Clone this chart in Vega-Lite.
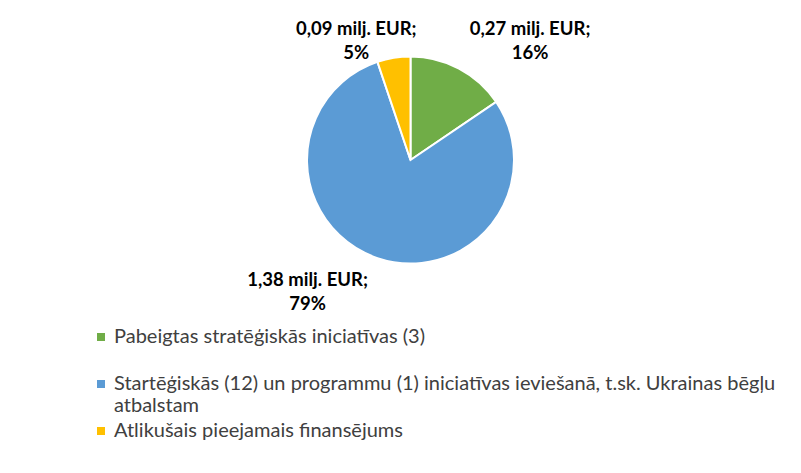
{
  "$schema": "https://vega.github.io/schema/vega-lite/v6.json",
  "autosize": "none",
  "width": 779,
  "height": 320,
  "padding": {"left": 21, "top": 0, "right": 1, "bottom": 153},
  "background": "white",
  "config": {"view": {"stroke": null}},
  "data": {
    "values": [
      {"n": 1, "kategorija": "Pabeigtas stratēģiskās iniciatīvas (3)", "milj_eur": 0.27, "label": "0,27 milj. EUR;\n16%"},
      {"n": 2, "kategorija": "Startēģiskās (12) un programmu (1) iniciatīvas ieviešanā, t.sk. Ukrainas bēgļu atbalstam", "milj_eur": 1.38, "label": "1,38 milj. EUR;\n79%"},
      {"n": 3, "kategorija": "Atlikušais pieejamais finansējums", "milj_eur": 0.09, "label": "0,09 milj. EUR;\n5%"}
    ]
  },
  "encoding": {
    "theta": {"field": "milj_eur", "type": "quantitative", "stack": true},
    "order": {"field": "n", "type": "quantitative"}
  },
  "layer": [
    {
      "mark": {"type": "arc", "outerRadius": 103.5, "stroke": "white", "strokeWidth": 2},
      "encoding": {
        "color": {
          "field": "kategorija",
          "type": "nominal",
          "sort": null,
          "scale": {
            "domain": ["Pabeigtas stratēģiskās iniciatīvas (3)", "Startēģiskās (12) un programmu (1) iniciatīvas ieviešanā, t.sk. Ukrainas bēgļu atbalstam", "Atlikušais pieejamais finansējums"],
            "range": ["#70AD47", "#5B9BD5", "#FFC000"]
          },
          "legend": {
            "title": null,
            "orient": "none",
            "legendX": 70,
            "legendY": 327,
            "direction": "vertical",
            "symbolType": "square",
            "symbolSize": 64,
            "symbolStrokeWidth": 0,
            "labelFont": "Lato",
            "labelFontSize": 20,
            "labelColor": "#404040",
            "labelOffset": 3,
            "labelLimit": 800,
            "rowPadding": 5,
            "padding": 0,
            "labelExpr": "datum.label == 'Startēģiskās (12) un programmu (1) iniciatīvas ieviešanā, t.sk. Ukrainas bēgļu atbalstam' ? ['Startēģiskās (12) un programmu (1) iniciatīvas ieviešanā, t.sk. Ukrainas bēgļu', 'atbalstam'] : [datum.label, '']"
          }
        }
      }
    },
    {
      "mark": {"type": "text", "radius": 125, "dx": 61, "dy": -21, "font": "Lato", "fontWeight": "bold", "fontSize": 18.5, "lineBreak": "\n", "lineHeight": 24, "color": "#000000", "align": "center", "baseline": "middle"},
      "encoding": {"text": {"condition": {"test": "datum.n == 1", "field": "label"}, "value": ""}}
    },
    {
      "mark": {"type": "text", "radius": 125, "dx": -63, "dy": 2, "font": "Lato", "fontWeight": "bold", "fontSize": 18.5, "lineBreak": "\n", "lineHeight": 24, "color": "#000000", "align": "center", "baseline": "middle"},
      "encoding": {"text": {"condition": {"test": "datum.n == 2", "field": "label"}, "value": ""}}
    },
    {
      "mark": {"type": "text", "radius": 125, "dx": -34, "dy": -8, "font": "Lato", "fontWeight": "bold", "fontSize": 18.5, "lineBreak": "\n", "lineHeight": 24, "color": "#000000", "align": "center", "baseline": "middle"},
      "encoding": {"text": {"condition": {"test": "datum.n == 3", "field": "label"}, "value": ""}}
    }
  ]
}
